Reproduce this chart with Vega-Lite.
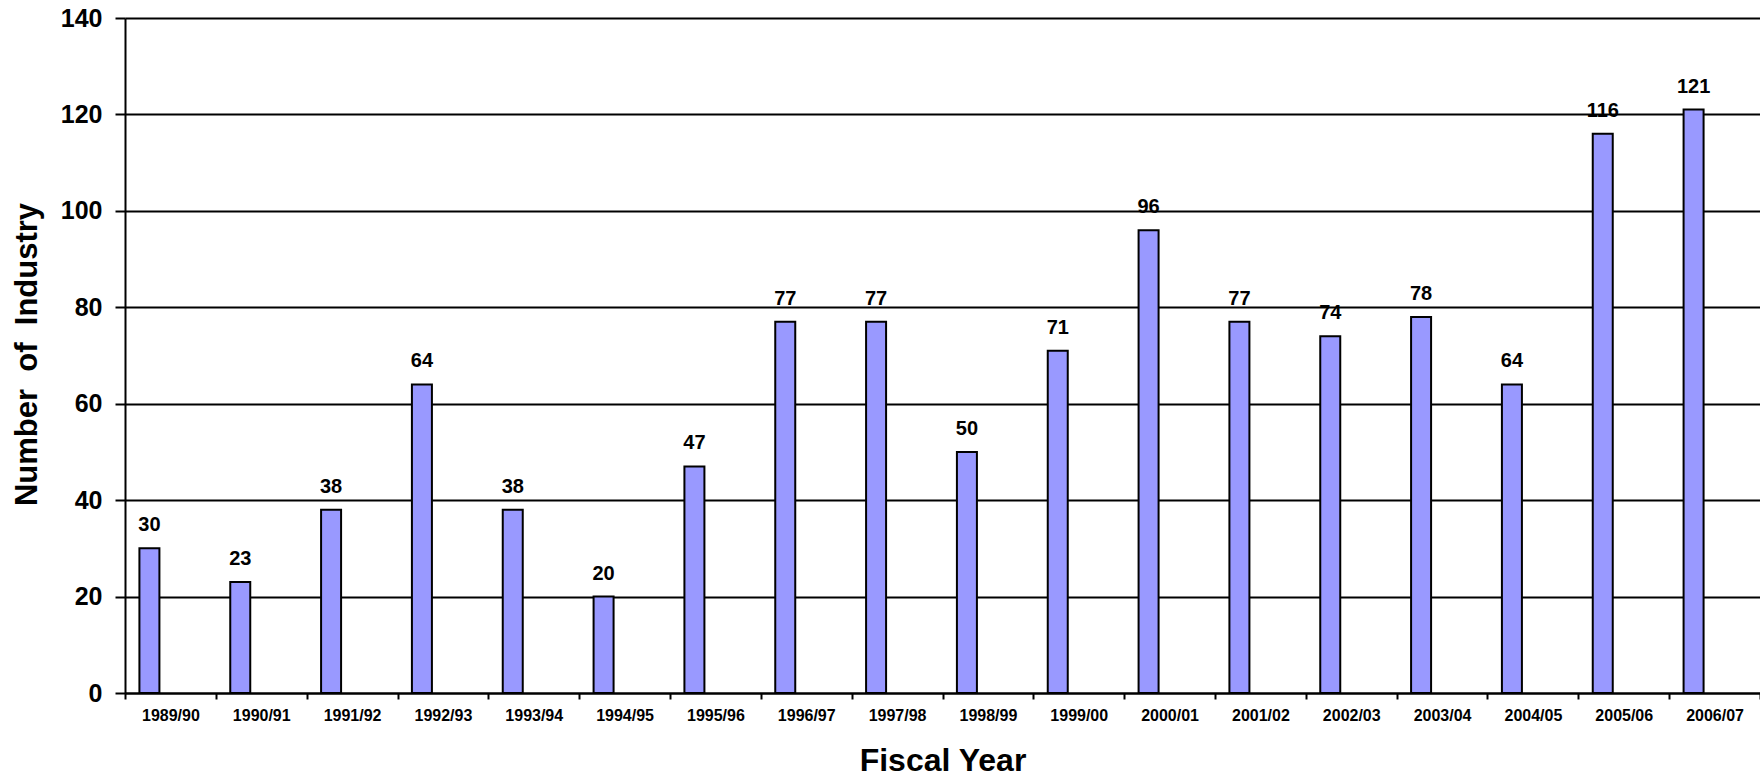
{
  "$schema": "https://vega.github.io/schema/vega-lite/v6.json",
  "autosize": "none",
  "width": 1635,
  "height": 675,
  "padding": {"left": 125, "top": 18, "right": 0, "bottom": 85},
  "background": "white",
  "config": {"view": {"stroke": null}, "font": "Liberation Sans"},
  "data": {"values": [
    {"year": "1989/90", "count": 30},
    {"year": "1990/91", "count": 23},
    {"year": "1991/92", "count": 38},
    {"year": "1992/93", "count": 64},
    {"year": "1993/94", "count": 38},
    {"year": "1994/95", "count": 20},
    {"year": "1995/96", "count": 47},
    {"year": "1996/97", "count": 77},
    {"year": "1997/98", "count": 77},
    {"year": "1998/99", "count": 50},
    {"year": "1999/00", "count": 71},
    {"year": "2000/01", "count": 96},
    {"year": "2001/02", "count": 77},
    {"year": "2002/03", "count": 74},
    {"year": "2003/04", "count": 78},
    {"year": "2004/05", "count": 64},
    {"year": "2005/06", "count": 116},
    {"year": "2006/07", "count": 121}
  ]},
  "encoding": {
    "x": {
      "field": "year", "type": "nominal", "sort": null,
      "scale": {"paddingInner": 0, "paddingOuter": 0},
      "axis": {
        "title": "Fiscal Year",
        "titleFont": "Liberation Sans", "titleFontSize": 32, "titleFontWeight": "bold", "titleColor": "black",
        "titleX": 817.5, "titleY": 77, "titleBaseline": "alphabetic", "titleAnchor": "middle", "titleAlign": "center",
        "labelAngle": 0, "labelFont": "Liberation Sans", "labelFontSize": 16, "labelFontWeight": "bold", "labelColor": "black",
        "labelPadding": 8,
        "tickBand": "extent", "tickSize": 6, "tickColor": "black", "tickWidth": 2,
        "domainColor": "black", "domainWidth": 2, "grid": false
      }
    },
    "y": {
      "field": "count", "type": "quantitative",
      "scale": {"domain": [0, 140], "nice": false},
      "axis": {
        "values": [0, 20, 40, 60, 80, 100, 120, 140],
        "title": "Number\u00a0 of\u00a0 Industry",
        "titleFont": "Liberation Sans", "titleFontSize": 31, "titleFontWeight": "bold", "titleColor": "black",
        "titleAngle": -90, "titleX": -98, "titleY": 336, "titleBaseline": "middle", "titleAlign": "center", "titleAnchor": "middle",
        "labelFont": "Liberation Sans", "labelFontSize": 25, "labelFontWeight": "bold", "labelColor": "black",
        "labelPadding": 13,
        "tickSize": 10, "tickColor": "black", "tickWidth": 2,
        "domainColor": "black", "domainWidth": 2,
        "grid": true, "gridColor": "black", "gridWidth": 1.8, "gridOpacity": 1
      }
    }
  },
  "layer": [
    {"mark": {"type": "bar", "width": 20, "xOffset": -21, "fill": "#9999FF", "stroke": "black", "strokeWidth": 2}},
    {"mark": {"type": "text", "xOffset": -21, "dy": -17, "baseline": "alphabetic", "align": "center", "font": "Liberation Sans", "fontSize": 20, "fontWeight": "bold", "color": "black"},
     "encoding": {"text": {"field": "count", "type": "quantitative"}}}
  ]
}
